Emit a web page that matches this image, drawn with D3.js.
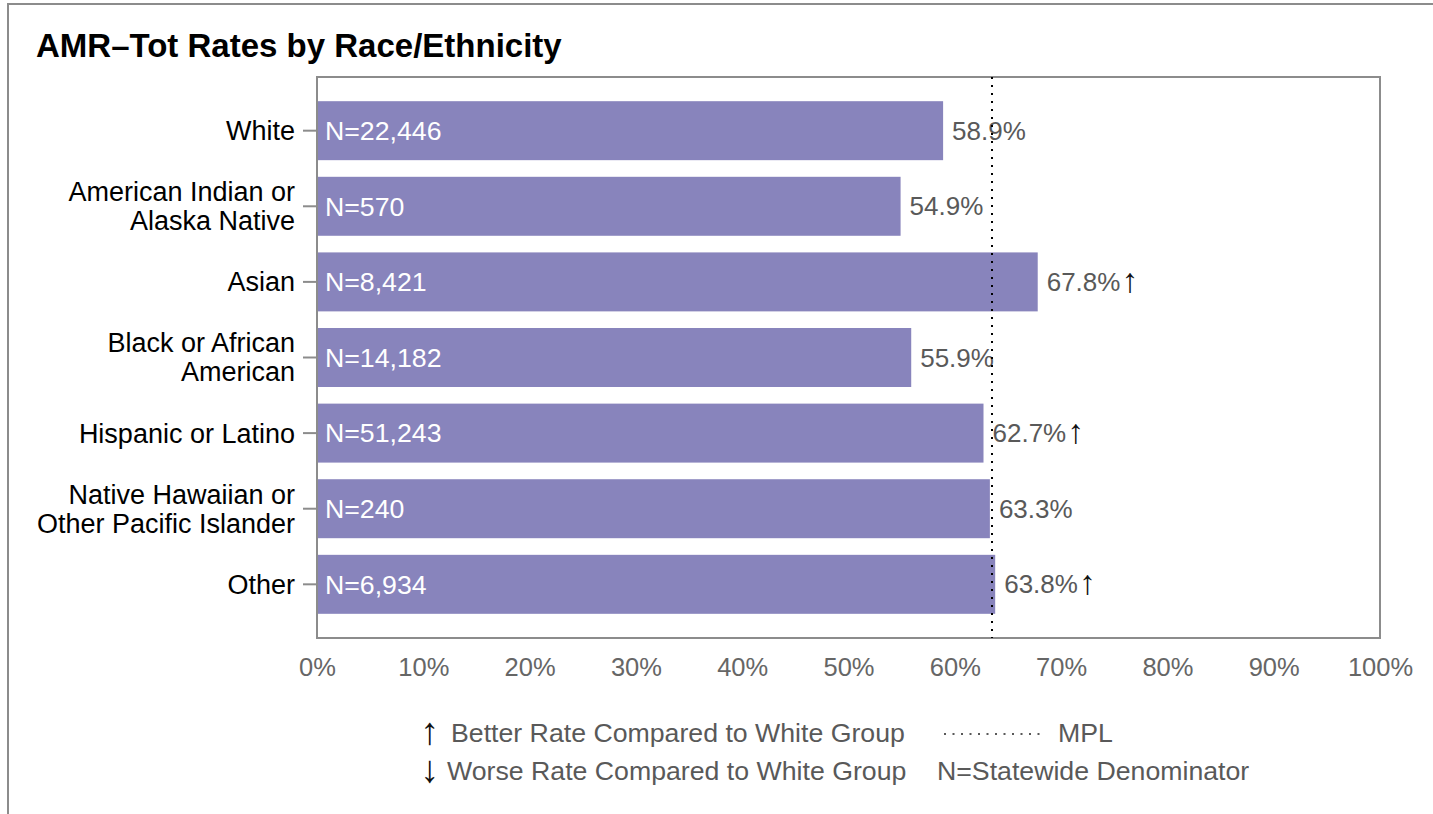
<!DOCTYPE html>
<html>
<head>
<meta charset="utf-8">
<script src="https://cdn.jsdelivr.net/npm/d3@7"></script>
<style>
  body { margin: 0; background: #fff; }
  text { font-family: "Liberation Sans", Arial, sans-serif; }
</style>
</head>
<body>
<div id="chart"></div>
<script>
var categories = ["White", "American Indian or\nAlaska Native", "Asian", "Black or African\nAmerican",
    "Hispanic or Latino", "Native Hawaiian or\nOther Pacific Islander", "Other"];
var rates = [58.9, 54.9, 67.8, 55.9, 62.7, 63.3, 63.8];
var denominators = ["22,446", "570", "8,421", "14,182", "51,243", "240", "6,934"];
var flags = ["", "", "up", "", "up", "", "up"];
var mpl = 63.5;
var xTicks = [0, 10, 20, 30, 40, 50, 60, 70, 80, 90, 100];

var data = categories.map(function (c, i) {
    return {cat: c, rate: rates[i], n: denominators[i], flag: flags[i]};
});

var W = 1433, H = 814;
var margin = {top: 77, right: 53, bottom: 176, left: 317};
var width = W - margin.left - margin.right,
    height = H - margin.top - margin.bottom;

var svg = d3.select("#chart").append("svg")
    .attr("width", W)
    .attr("height", H);

// outer frame (top and left)
svg.append("path")
    .attr("d", "M8,814 L8,4 L1433,4")
    .attr("fill", "none")
    .attr("stroke", "#8c8c8c")
    .attr("stroke-width", 2);

svg.append("text")
    .attr("x", 36)
    .attr("y", 57)
    .attr("font-size", 33)
    .attr("font-weight", "bold")
    .attr("fill", "#000")
    .text("AMR\u2013Tot Rates by Race/Ethnicity");

var x = d3.scaleLinear().domain([0, 100]).range([0, width]);
var y = d3.scaleBand().domain(categories).range([0, height])
    .paddingInner(0.22).paddingOuter(0.32);

var main = svg.append("g")
    .attr("transform", "translate(" + margin.left + "," + margin.top + ")");

main.selectAll("rect.bar")
    .data(data)
    .enter().append("rect")
    .attr("class", "bar")
    .attr("x", 0)
    .attr("y", function (d) { return y(d.cat); })
    .attr("width", function (d) { return x(d.rate); })
    .attr("height", y.bandwidth())
    .attr("fill", "#8884bc");

// plot frame
main.append("rect")
    .attr("x", 0).attr("y", 0)
    .attr("width", width).attr("height", height)
    .attr("fill", "none")
    .attr("stroke", "#8c8c8c")
    .attr("stroke-width", 2);

// y axis
var yAxis = main.append("g").call(d3.axisLeft(y).tickSize(14).tickFormat(""));
yAxis.select(".domain").remove();
yAxis.selectAll(".tick line").attr("stroke", "#8c8c8c").attr("stroke-width", 2);

main.selectAll("text.cat")
    .data(data)
    .enter().append("text")
    .attr("class", "cat")
    .attr("text-anchor", "end")
    .attr("font-size", 27)
    .attr("fill", "#000")
    .each(function (d) {
        var lines = d.cat.split("\n");
        var cy = y(d.cat) + y.bandwidth() / 2;
        var t = d3.select(this);
        lines.forEach(function (l, i) {
            t.append("tspan")
                .attr("x", -22)
                .attr("y", cy + (i - (lines.length - 1) / 2) * 29)
                .attr("dy", "0.35em")
                .text(l);
        });
    });

// x axis
var xAxis = main.append("g")
    .attr("transform", "translate(0," + height + ")")
    .call(d3.axisBottom(x).tickValues(xTicks).tickSize(0).tickPadding(20)
        .tickFormat(function (d) { return d + "%"; }));
xAxis.select(".domain").remove();
xAxis.selectAll("text")
    .attr("font-family", "Liberation Sans, Arial, sans-serif")
    .attr("font-size", 25.5)
    .attr("fill", "#666");

// N labels
main.selectAll("text.n")
    .data(data)
    .enter().append("text")
    .attr("class", "n")
    .attr("x", 8)
    .attr("y", function (d) { return y(d.cat) + y.bandwidth() / 2; })
    .attr("dy", "0.35em")
    .attr("font-size", 26.7)
    .attr("fill", "#fff")
    .text(function (d) { return "N=" + d.n; });

// value labels
var vals = main.selectAll("text.val")
    .data(data)
    .enter().append("text")
    .attr("class", "val")
    .attr("x", function (d) { return x(d.rate) + 9; })
    .attr("y", function (d) { return y(d.cat) + y.bandwidth() / 2; })
    .attr("dy", "0.35em")
    .attr("font-family", "DejaVu Sans, sans-serif")
    .attr("font-size", 26)
    .attr("fill", "#595959");
vals.append("tspan").text(function (d) { return d.rate.toFixed(1) + "%"; });
vals.append("tspan")
    .attr("fill", "#111")
    .attr("dx", 1)
    .attr("font-family", "Liberation Sans, Arial, sans-serif")
    .attr("font-size", 34)
    .attr("dy", 1)
    .text(function (d) { return d.flag === "up" ? "\u2191" : (d.flag === "down" ? "\u2193" : ""); });

// MPL line
main.append("line")
    .attr("x1", x(mpl)).attr("x2", x(mpl))
    .attr("y1", 0).attr("y2", height)
    .attr("stroke", "#000")
    .attr("stroke-width", 2)
    .attr("stroke-dasharray", "2,6");

// legend
var leg = svg.append("g").attr("font-size", 26.7).attr("fill", "#595959");
leg.append("text").attr("x", 420).attr("y", 744).attr("fill", "#111")
    .attr("font-size", 38).text("\u2191");
leg.append("text").attr("x", 451).attr("y", 742).text("Better Rate Compared to White Group");
leg.append("text").attr("x", 420).attr("y", 782).attr("fill", "#111")
    .attr("font-size", 38).text("\u2193");
leg.append("text").attr("x", 447).attr("y", 780).text("Worse Rate Compared to White Group");
leg.append("line")
    .attr("x1", 944).attr("x2", 1044)
    .attr("y1", 734).attr("y2", 734)
    .attr("stroke", "#595959")
    .attr("stroke-width", 2)
    .attr("stroke-dasharray", "2,6.5");
leg.append("text").attr("x", 1058).attr("y", 742).text("MPL");
leg.append("text").attr("x", 937).attr("y", 780).text("N=Statewide Denominator");
</script>
</body>
</html>
